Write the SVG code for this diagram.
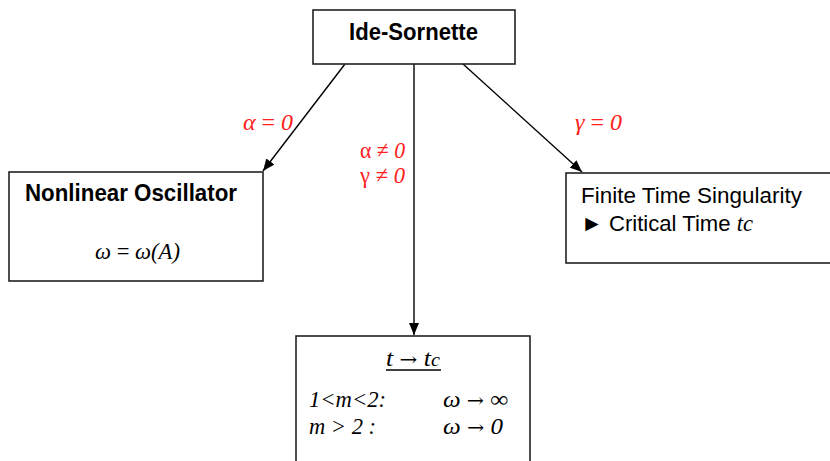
<svg xmlns="http://www.w3.org/2000/svg" width="830" height="461" viewBox="0 0 830 461">
<style>
.box{fill:#fff;stroke:#222;stroke-width:1.6}
.hb{font-family:"Liberation Sans",Arial,sans-serif;font-weight:bold;font-size:23.5px;fill:#000}
.hr{font-family:"Liberation Sans",Arial,sans-serif;font-size:22.5px;fill:#000}
.m{font-family:"Liberation Serif","Times New Roman",serif;font-size:23px;fill:#000}
.i{font-style:italic}
.ar{font-family:"DejaVu Serif",serif;font-style:normal}
.red{font-family:"Liberation Serif","Times New Roman",serif;font-size:24px;fill:#ff2020}
.con{stroke:#000;stroke-width:1.4;fill:none}
</style>
<defs>
<marker id="ah" viewBox="0 0 12 10" refX="12" refY="5" markerWidth="12" markerHeight="10" markerUnits="userSpaceOnUse" orient="auto">
<path d="M0,0 L12,5 L0,10 Z" fill="#000"/>
</marker>
</defs>
<rect width="830" height="461" fill="#fff"/>
<g id="connectors">
<line class="con" x1="345" y1="64" x2="263" y2="171" marker-end="url(#ah)"/>
<line class="con" x1="414" y1="64" x2="414" y2="335" marker-end="url(#ah)"/>
<line class="con" x1="463" y1="64" x2="582" y2="172" marker-end="url(#ah)"/>
<text class="red" x="243" y="130" textLength="50" lengthAdjust="spacingAndGlyphs"><tspan class="i">α</tspan> = <tspan class="i">0</tspan></text>
<text class="red" x="360" y="158" textLength="45" lengthAdjust="spacingAndGlyphs">α ≠ <tspan class="i">0</tspan></text>
<text class="red" x="360" y="183" textLength="45" lengthAdjust="spacingAndGlyphs">γ ≠ <tspan class="i">0</tspan></text>
<text class="red" x="575" y="130" textLength="47" lengthAdjust="spacingAndGlyphs"><tspan class="i">γ</tspan> = <tspan class="i">0</tspan></text>
</g>
<g id="ide-sornette">
<rect class="box" x="313" y="10" width="202" height="54"/>
<text class="hb" x="349" y="40" textLength="129" lengthAdjust="spacingAndGlyphs">Ide-Sornette</text>
</g>
<g id="nonlinear-oscillator">
<rect class="box" x="9" y="172" width="254" height="109"/>
<text class="hb" x="25" y="201" textLength="212" lengthAdjust="spacingAndGlyphs">Nonlinear Oscillator</text>
<text class="m" x="95" y="259" textLength="85" lengthAdjust="spacingAndGlyphs"><tspan class="i">ω</tspan> = <tspan class="i">ω(A)</tspan></text>
</g>
<g id="finite-time">
<rect class="box" x="566" y="173" width="270" height="90"/>
<text class="hr" x="581" y="203" textLength="221" lengthAdjust="spacingAndGlyphs">Finite Time Singularity</text>
<text class="hr" x="581" y="231" textLength="172" lengthAdjust="spacingAndGlyphs">► Critical Time <tspan class="m i">t</tspan><tspan class="m i" font-size="17">c</tspan></text>
</g>
<g id="limit">
<rect class="box" x="296" y="336" width="234" height="140"/>
<text class="m i" x="386" y="366" textLength="54" lengthAdjust="spacingAndGlyphs">t <tspan class="ar" font-size="19">→</tspan> t<tspan font-size="18">c</tspan></text>
<line x1="386" y1="370" x2="441" y2="370" stroke="#000" stroke-width="1.6"/>
<text class="m i" x="309" y="407" textLength="77" lengthAdjust="spacingAndGlyphs">1&lt;m&lt;2:</text>
<text class="m i" x="443" y="407" textLength="65" lengthAdjust="spacingAndGlyphs">ω <tspan class="ar" font-size="19">→</tspan> ∞</text>
<text class="m i" x="309" y="434" textLength="67" lengthAdjust="spacingAndGlyphs">m &gt; 2 :</text>
<text class="m i" x="443" y="434" textLength="60" lengthAdjust="spacingAndGlyphs">ω <tspan class="ar" font-size="19">→</tspan> 0</text>
</g>
</svg>
